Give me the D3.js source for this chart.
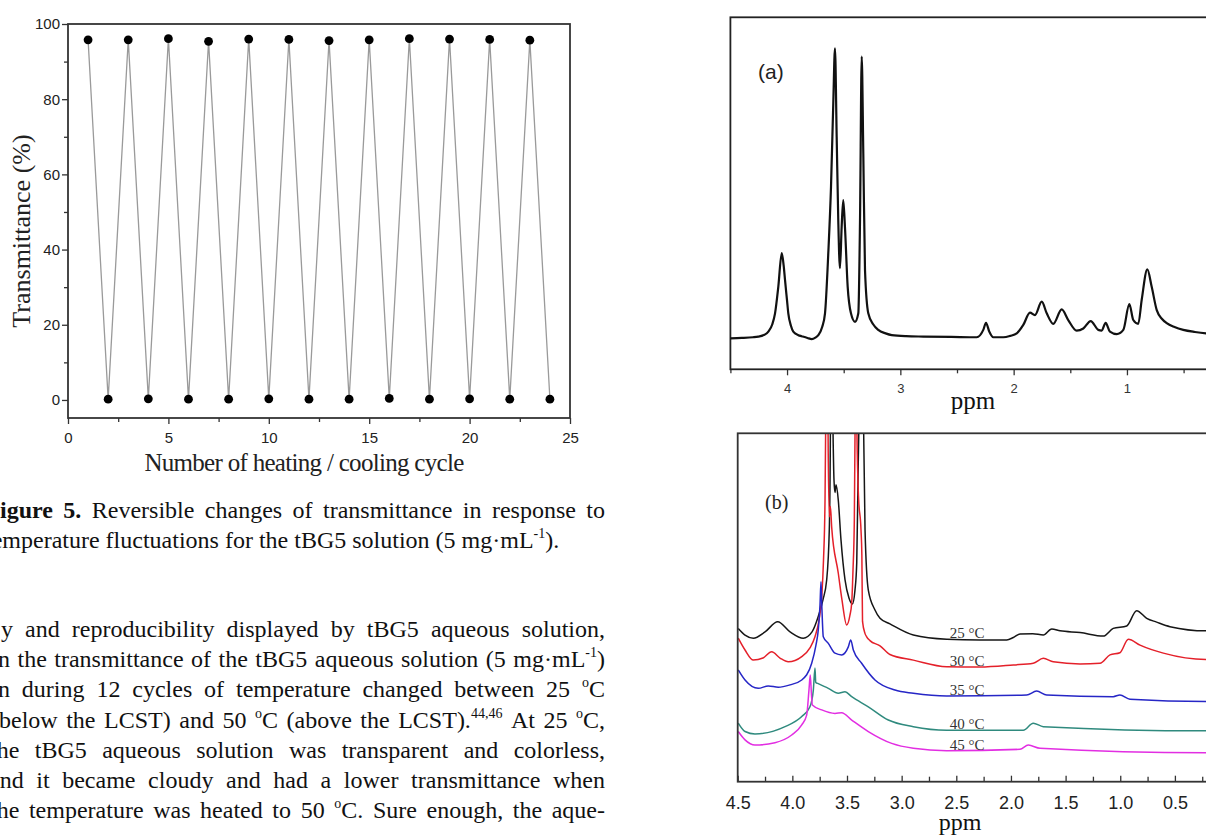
<!DOCTYPE html>
<html>
<head>
<meta charset="utf-8">
<script src="https://cdn.jsdelivr.net/npm/d3@7"></script>
<style>
  html, body { margin: 0; padding: 0; background: #fff; }
  svg { display: block; }
</style>
</head>
<body>
<svg id="page" width="1206" height="836"></svg>
<script>
// ---------- Figure 5: transmittance vs heating / cooling cycle ----------
const cycles = [1, 2, 3, 4, 5, 6, 7, 8, 9, 10, 11, 12, 13, 14, 15, 16, 17, 18, 19, 20, 21, 22, 23, 24];
const transmittance = [95.8, 0.2, 95.8, 0.3, 96.1, 0.2, 95.4, 0.2, 96.0, 0.3, 95.9, 0.2,
                       95.6, 0.2, 95.8, 0.4, 96.1, 0.2, 96.0, 0.3, 95.9, 0.2, 95.7, 0.2];
const transYTicks = [0, 20, 40, 60, 80, 100];
const transYMinor = [10, 30, 50, 70, 90];
const cycleTicks = [0, 5, 10, 15, 20, 25];
const cycleMinor = [2.5, 7.5, 12.5, 17.5, 22.5];

// ---------- 1H NMR spectrum (a): [ppm, intensity] ----------
const nmrA = [
  [4.50, 8.8], [4.40, 8.9], [4.30, 9.1], [4.254, 9.3], [4.20, 9.8], [4.165, 10.7], [4.13, 12.8],
  [4.106, 15.9], [4.077, 23.5], [4.047, 33.0], [4.030, 29.5], [4.018, 25.4], [4.00, 19.5],
  [3.989, 15.9], [3.965, 12.3], [3.945, 10.7], [3.90, 9.7], [3.871, 9.4], [3.82, 8.9],
  [3.782, 8.6], [3.75, 9.0], [3.724, 9.7], [3.69, 12.0], [3.665, 15.9], [3.636, 33.0],
  [3.612, 51.9], [3.592, 75.6], [3.577, 91.2], [3.562, 66.1], [3.548, 42.4], [3.533, 28.7],
  [3.518, 40.5], [3.504, 48.1], [3.489, 40.5], [3.465, 23.5], [3.436, 15.9], [3.400, 13.5],
  [3.371, 15.9], [3.356, 42.4], [3.341, 88.8], [3.327, 61.4], [3.312, 28.2], [3.283, 15.9],
  [3.24, 12.8], [3.195, 11.2], [3.13, 10.2], [3.076, 9.7], [2.95, 9.4], [2.797, 9.3],
  [2.55, 9.2], [2.326, 9.1], [2.268, 11.2], [2.244, 13.2], [2.215, 10.7], [2.180, 9.1],
  [2.091, 9.1], [2.03, 9.5], [1.973, 10.2], [1.915, 12.6], [1.856, 16.1], [1.812, 15.4],
  [1.752, 19.2], [1.708, 15.9], [1.650, 12.9], [1.576, 17.0], [1.518, 14.0], [1.444, 11.0],
  [1.385, 11.6], [1.320, 13.7], [1.253, 11.2], [1.223, 11.0], [1.188, 13.2], [1.150, 10.7],
  [1.090, 10.0], [1.032, 11.2], [0.979, 18.5], [0.944, 14.0], [0.900, 12.9], [0.870, 19.7],
  [0.820, 28.4], [0.782, 23.5], [0.737, 16.8], [0.690, 14.3], [0.649, 13.1], [0.58, 12.0],
  [0.503, 11.2], [0.40, 10.6], [0.302, 10.2], [0.20, 10.0]
];
const ppmTicksA = [4, 3, 2, 1];
const ppmMinorA = [4.5, 3.5, 2.5, 1.5, 0.5];

// ---------- variable-temperature spectra (b): [ppm, intensity] ----------
const nmr25 = [
  [4.495, 44.0], [4.433, 42.1], [4.357, 41.2], [4.25, 43.0], [4.134, 45.9], [4.021, 43.0],
  [3.900, 41.2], [3.820, 43.0], [3.763, 47.4], [3.720, 52.2], [3.686, 57.9], [3.662, 72.3],
  [3.652, 100], [3.645, 150], [3.630, 105], [3.619, 86.6], [3.610, 83.0], [3.600, 85.2],
  [3.580, 80.9], [3.555, 69.4], [3.518, 57.9], [3.482, 52.7], [3.451, 51.0], [3.427, 55.0],
  [3.411, 62.8], [3.397, 91.5], [3.381, 120], [3.367, 150], [3.351, 110], [3.335, 72.3],
  [3.305, 55.0], [3.244, 49.3], [3.198, 46.9], [3.107, 45.3], [2.893, 42.1], [2.588, 40.9],
  [2.283, 40.7], [2.039, 40.7], [1.978, 41.4], [1.917, 42.4], [1.80, 42.5], [1.704, 42.1],
  [1.627, 43.8], [1.551, 43.3], [1.368, 42.8], [1.155, 41.8], [1.064, 44.0], [0.941, 44.7],
  [0.850, 49.1], [0.758, 46.9], [0.667, 45.8], [0.545, 44.5], [0.215, 43.3], [0.20, 43.3]
];
const nmr30 = [
  [4.495, 41.2], [4.433, 37.8], [4.357, 34.9], [4.269, 35.5], [4.189, 37.3], [4.113, 35.5],
  [4.037, 34.4], [3.914, 35.9], [3.839, 38.4], [3.793, 41.6], [3.756, 46.4], [3.731, 53.1],
  [3.715, 63.6], [3.701, 80.9], [3.690, 120], [3.684, 150], [3.672, 95], [3.662, 76],
  [3.652, 79], [3.640, 73], [3.580, 59.9], [3.546, 52.2], [3.503, 45.0], [3.473, 47.8],
  [3.457, 51.3], [3.445, 60.8], [3.433, 75], [3.424, 110], [3.418, 150], [3.411, 105],
  [3.395, 82], [3.372, 72.3], [3.364, 65], [3.358, 46], [3.335, 42.5], [3.320, 41.6],
  [3.290, 40.5], [3.198, 39.0], [3.107, 36.5], [2.893, 34.9], [2.588, 33.0], [2.283, 32.9],
  [1.978, 33.5], [1.796, 34.0], [1.704, 35.4], [1.613, 34.4], [1.368, 33.8], [1.185, 34.0],
  [1.094, 36.4], [1.003, 37.0], [0.926, 40.9], [0.819, 39.2], [0.606, 36.9], [0.215, 35.1],
  [0.20, 35.1]
];
const nmr35 = [
  [4.495, 32.1], [4.433, 29.2], [4.312, 26.8], [4.220, 27.5], [4.129, 27.1], [4.021, 27.8],
  [3.914, 29.2], [3.823, 34.0], [3.784, 39.2], [3.763, 43.5], [3.747, 50.7], [3.738, 57.4],
  [3.729, 49.3], [3.717, 41.6], [3.671, 39.7], [3.610, 36.9], [3.549, 36.4], [3.488, 38.7],
  [3.466, 40.7], [3.442, 37.8], [3.366, 34.0], [3.244, 29.2], [3.061, 26.3], [2.893, 25.4],
  [2.588, 24.6], [1.856, 24.9], [1.765, 26.0], [1.673, 24.9], [1.064, 24.4], [1.003, 24.9],
  [0.911, 23.7], [0.215, 23.0], [0.20, 23.0]
];
const nmr40 = [
  [4.495, 16.8], [4.433, 14.4], [4.342, 13.7], [4.067, 15.8], [3.914, 18.7], [3.839, 21.5],
  [3.808, 26.3], [3.793, 32.6], [3.786, 28.5], [3.768, 28.2], [3.671, 26.8], [3.580, 25.4],
  [3.518, 25.8], [3.457, 24.4], [3.305, 21.5], [3.122, 17.7], [2.893, 15.8], [2.588, 14.8],
  [1.887, 14.8], [1.796, 16.8], [1.704, 15.8], [0.215, 14.6], [0.20, 14.6]
];
const nmr45 = [
  [4.495, 14.4], [4.433, 12.0], [4.342, 10.5], [4.159, 11.2], [4.006, 13.4], [3.914, 16.3],
  [3.869, 19.1], [3.848, 26.3], [3.836, 30.6], [3.825, 24.9], [3.817, 22.0], [3.731, 20.6],
  [3.610, 19.6], [3.549, 19.8], [3.457, 17.7], [3.305, 14.4], [3.091, 11.0], [2.893, 9.6],
  [2.588, 8.9], [1.917, 9.3], [1.841, 10.5], [1.734, 9.6], [0.215, 8.3], [0.20, 8.3]
];
const tempSeries = [nmr25, nmr30, nmr35, nmr40, nmr45];
const tempLabels = ["25 °C", "30 °C", "35 °C", "40 °C", "45 °C"];
const tempColors = ["#161616", "#e4202a", "#2626c6", "#2f8a7e", "#e22ee2"];
const ppmTicksB = [4.5, 4.0, 3.5, 3.0, 2.5, 2.0, 1.5, 1.0, 0.5];
const ppmMinorB = [4.25, 3.75, 3.25, 2.75, 2.25, 1.75, 1.25, 0.75, 0.25];

// ---------- page text ----------
const captionLine1 = ["**Figure", "**5.", "Reversible", "changes", "of", "transmittance", "in", "response", "to"];
const captionLine2 = ["temperature", "fluctuations", "for", "the", "tBG5", "solution", "(5", "mg·mL^{-1})."];
const bodyLines = [
  ["y", "and", "reproducibility", "displayed", "by", "tBG5", "aqueous", "solution,"],
  ["n", "the", "transmittance", "of", "the", "tBG5", "aqueous", "solution", "(5", "mg·mL^{-1})"],
  ["n", "during", "12", "cycles", "of", "temperature", "changed", "between", "25", "^{o}C"],
  ["(below", "the", "LCST)", "and", "50", "^{o}C", "(above", "the", "LCST).^{44,46}", "At", "25", "^{o}C,"],
  ["the", "tBG5", "aqueous", "solution", "was", "transparent", "and", "colorless,"],
  ["and", "it", "became", "cloudy", "and", "had", "a", "lower", "transmittance", "when"],
  ["the", "temperature", "was", "heated", "to", "50", "^{o}C.", "Sure", "enough,", "the", "aque-"]
];
const bodyStarts = [1, -2, -2, -9, -10, -11, -10];

// ---------- drawing ----------
const svg = d3.select("#page");
const serif = "'Liberation Serif','Times New Roman',Times,serif";
const sans = "'Liberation Sans',Arial,Helvetica,sans-serif";

function styleAxis(g, family, size, color) {
  g.select(".domain").remove();
  g.selectAll(".tick line").attr("stroke", "#333").attr("stroke-width", 1.3);
  g.selectAll(".tick text").attr("font-family", family).attr("font-size", size).attr("fill", color || "#222");
}

// ===== left chart =====
const xT = d3.scaleLinear().domain([0, 25]).range([68, 570]);
const yT = d3.scaleLinear().domain([-4.8, 100]).range([418, 24]);
const gT = svg.append("g");

gT.append("g").attr("transform", `translate(${xT(0)},0)`)
  .call(d3.axisLeft(yT).tickValues(transYMinor).tickSize(4).tickFormat(""))
  .call(g => styleAxis(g, sans, 15));
gT.append("g").attr("transform", `translate(${xT(0)},0)`)
  .call(d3.axisLeft(yT).tickValues(transYTicks).tickSize(6).tickPadding(2).tickFormat(d3.format("d")))
  .call(g => styleAxis(g, sans, 15));
gT.append("g").attr("transform", `translate(0,${yT.range()[0]})`)
  .call(d3.axisBottom(xT).tickValues(cycleMinor).tickSize(4).tickFormat(""))
  .call(g => styleAxis(g, sans, 15));
gT.append("g").attr("transform", `translate(0,${yT.range()[0]})`)
  .call(d3.axisBottom(xT).tickValues(cycleTicks).tickSize(6).tickPadding(8).tickFormat(d3.format("d")))
  .call(g => styleAxis(g, sans, 15));

gT.append("rect")
  .attr("x", xT(0)).attr("y", yT(100))
  .attr("width", xT(25) - xT(0)).attr("height", yT.range()[0] - yT(100))
  .attr("fill", "none").attr("stroke", "#333").attr("stroke-width", 1.8);

const transData = cycles.map((c, i) => [c, transmittance[i]]);
gT.append("path").datum(transData)
  .attr("fill", "none").attr("stroke", "#9a9a9a").attr("stroke-width", 1.3)
  .attr("d", d3.line().x(d => xT(d[0])).y(d => yT(d[1])));
gT.selectAll("circle.pt").data(transData).join("circle")
  .attr("class", "pt")
  .attr("cx", d => xT(d[0])).attr("cy", d => yT(d[1])).attr("r", 4.4)
  .attr("fill", "#000");

gT.append("text")
  .attr("transform", `translate(30,${(yT(100) + yT.range()[0]) / 2 + 10}) rotate(-90)`)
  .attr("text-anchor", "middle")
  .attr("font-family", serif).attr("font-size", 26).attr("fill", "#222")
  .text("Transmittance (%)");
gT.append("text")
  .attr("x", 304).attr("y", 471)
  .attr("text-anchor", "middle")
  .attr("font-family", serif).attr("font-size", 25).attr("letter-spacing", -0.7).attr("fill", "#222")
  .text("Number of heating / cooling cycle");

// ===== page text (caption and body) =====
function fillRich(t, w) {
  let bold = false;
  if (w.startsWith("**")) { bold = true; w = w.slice(2); }
  const parts = w.split(/(\^\{[^}]*\})/).filter(s => s.length);
  let raised = false;
  parts.forEach(p => {
    const sp = t.append("tspan");
    if (bold) sp.attr("font-weight", "bold");
    if (p.startsWith("^{")) {
      sp.text(p.slice(2, -1)).attr("font-size", 14).attr("dy", raised ? 0 : -10);
      raised = true;
    } else {
      sp.text(p);
      if (raised) { sp.attr("dy", 10); raised = false; }
    }
  });
}

function setLine(words, x0, x1, y, justify) {
  const g = svg.append("g");
  const nodes = words.map(w => {
    const t = g.append("text").attr("y", y)
      .attr("font-family", serif).attr("font-size", 24).attr("fill", "#111");
    fillRich(t, w);
    return t;
  });
  const widths = nodes.map(t => t.node().getComputedTextLength());
  const total = d3.sum(widths);
  const gap = justify && words.length > 1 ? (x1 - x0 - total) / (words.length - 1) : 6;
  let x = x0;
  nodes.forEach((t, i) => { t.attr("x", x); x += widths[i] + gap; });
}

setLine(captionLine1, -14.7, 605, 518, true);
setLine(captionLine2, -15, 605, 547.5, false);
bodyLines.forEach((words, i) => setLine(words, bodyStarts[i], 605, 637 + 30.2 * i, true));

// ===== spectrum (a) =====
const xA = d3.scaleLinear().domain([4.5, 0.2]).range([730.4, 730.4 + 4.3 * 113.3]);
const yA = d3.scaleLinear().domain([0, 100]).range([369.3, 17.3]);
const gA = svg.append("g");

gA.append("g").attr("transform", `translate(0,${yA(0)})`)
  .call(d3.axisBottom(xA).tickValues(ppmMinorA).tickSize(4).tickFormat(""))
  .call(g => styleAxis(g, sans, 13));
gA.append("g").attr("transform", `translate(0,${yA(0)})`)
  .call(d3.axisBottom(xA).tickValues(ppmTicksA).tickSize(6).tickPadding(8).tickFormat(d3.format("d")))
  .call(g => styleAxis(g, sans, 13, "#333"));
gA.append("rect")
  .attr("x", xA(4.5)).attr("y", yA(100))
  .attr("width", xA(0.2) - xA(4.5)).attr("height", yA(0) - yA(100))
  .attr("fill", "none").attr("stroke", "#222").attr("stroke-width", 1.8);

gA.append("path").datum(nmrA)
  .attr("fill", "none").attr("stroke", "#111").attr("stroke-width", 2.2)
  .attr("stroke-linejoin", "round")
  .attr("d", d3.line().curve(d3.curveMonotoneX).x(d => xA(d[0])).y(d => yA(d[1])));

gA.append("text").attr("x", 758).attr("y", 79)
  .attr("font-family", sans).attr("font-size", 21).attr("fill", "#222").text("(a)");
gA.append("text").attr("x", 973).attr("y", 409).attr("text-anchor", "middle")
  .attr("font-family", serif).attr("font-size", 25).attr("fill", "#111").text("ppm");

// ===== spectra (b) =====
const xB = d3.scaleLinear().domain([4.5, 0.2]).range([737.7, 737.7 + 4.3 * 109.3]);
const yB = d3.scaleLinear().domain([0, 100]).range([781.7, 433.3]);
const gB = svg.append("g");

gB.append("defs").append("clipPath").attr("id", "clipB")
  .append("rect")
  .attr("x", xB(4.5)).attr("y", yB(100))
  .attr("width", xB(0.2) - xB(4.5)).attr("height", yB(0) - yB(100));

gB.append("g").attr("transform", `translate(0,${yB(0)})`)
  .call(d3.axisBottom(xB).tickValues(ppmMinorB).tickSizeInner(-5).tickSizeOuter(0).tickFormat(""))
  .call(g => styleAxis(g, sans, 18));
gB.append("g").attr("transform", `translate(0,${yB(0)})`)
  .call(d3.axisBottom(xB).tickValues(ppmTicksB).tickSizeInner(-6).tickSizeOuter(0).tickPadding(15)
    .tickFormat(d3.format(".1f")))
  .call(g => styleAxis(g, sans, 18, "#222"));

const lineB = d3.line().curve(d3.curveMonotoneX).x(d => xB(d[0])).y(d => yB(d[1]));
const traces = gB.append("g").attr("clip-path", "url(#clipB)");
tempSeries.forEach((s, i) => {
  traces.append("path").datum(s)
    .attr("fill", "none").attr("stroke", tempColors[i]).attr("stroke-width", 1.5)
    .attr("stroke-linejoin", "round")
    .attr("d", lineB);
});

gB.append("rect")
  .attr("x", xB(4.5)).attr("y", yB(100))
  .attr("width", xB(0.2) - xB(4.5)).attr("height", yB(0) - yB(100))
  .attr("fill", "none").attr("stroke", "#333").attr("stroke-width", 1.8);

// temperature labels sit on their trace around 2.56 ppm
const labelPpm = 2.56;
function valueAt(series, ppm) {
  const i = series.findIndex(d => d[0] <= ppm);
  if (i <= 0) return series[0][1];
  const a = series[i - 1], b = series[i];
  const t = (a[0] - ppm) / (a[0] - b[0]);
  return a[1] + t * (b[1] - a[1]);
}
tempSeries.forEach((s, i) => {
  gB.append("text")
    .attr("x", xB(labelPpm)).attr("y", yB(valueAt(s, labelPpm)) - 1)
    .attr("font-family", serif).attr("font-size", 15).attr("fill", "#333")
    .text(tempLabels[i]);
});

gB.append("text").attr("x", 765).attr("y", 509)
  .attr("font-family", serif).attr("font-size", 20).attr("fill", "#222").text("(b)");
gB.append("text").attr("x", 960).attr("y", 830).attr("text-anchor", "middle")
  .attr("font-family", serif).attr("font-size", 24).attr("fill", "#111").text("ppm");
</script>
</body>
</html>
